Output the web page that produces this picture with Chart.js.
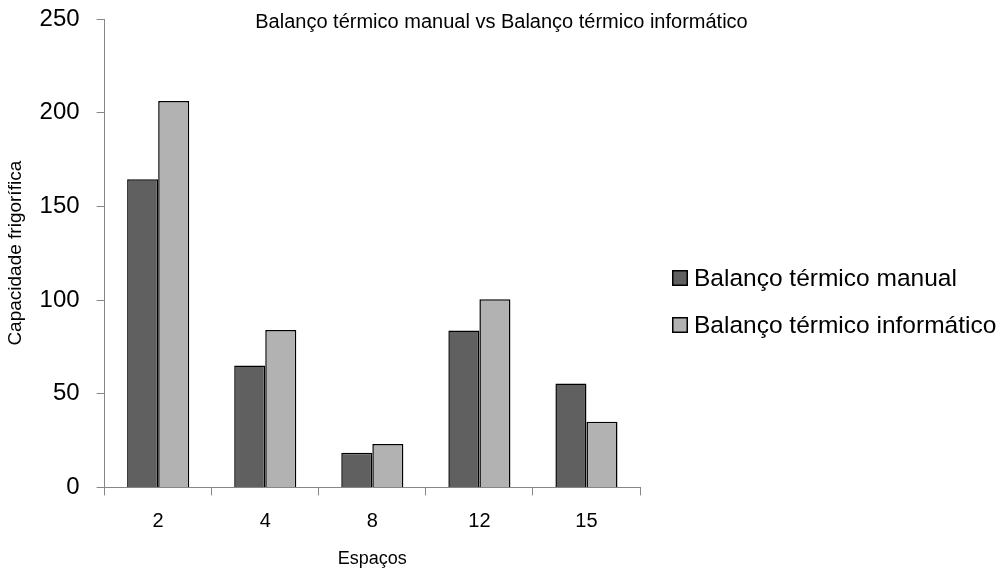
<!DOCTYPE html>
<html lang="pt">
<head>
<meta charset="utf-8">
<title>Balanço térmico manual vs Balanço térmico informático</title>
<script src="https://cdn.jsdelivr.net/npm/chart.js@4/dist/chart.umd.min.js"></script>
<style>
  html, body { margin: 0; padding: 0; background: #ffffff; }
  canvas { display: block; }
</style>
</head>
<body>
<canvas id="chart" width="1003" height="572" style="width:1003px;height:572px"></canvas>
<script>
// Spaces (Espaços) and the cooling capacity found by each method
const espacos = ['2', '4', '8', '12', '15'];
const balancoManual = [164.5, 65.0, 18.5, 83.7, 55.4];
const balancoInformatico = [206.2, 84.0, 23.1, 100.4, 35.1];
const yTicks = [0, 50, 100, 150, 200, 250];

const seriesLabels = ['Balanço térmico manual', 'Balanço térmico informático'];
const seriesColors = ['#606060', '#b2b2b2'];

const FONT = "'Liberation Sans', Arial, sans-serif";
const AXIS_GREY = '#868686';

Chart.defaults.font.family = FONT;
Chart.defaults.color = '#000000';

// Legend drawn as its own layout box on the right side of the chart area
const sideLegend = {
  id: 'sideLegend',
  beforeInit(chart) {
    const box = {
      position: 'right',
      weight: 0,
      fullSize: false,
      options: {},
      top: 0, left: 0, right: 0, bottom: 0, width: 0, height: 0,
      isHorizontal() { return false; },
      update(maxWidth, maxHeight) {
        this.width = 363;
        this.height = maxHeight;
      },
      draw() {
        const ctx = chart.ctx;
        const sets = chart.data.datasets;
        ctx.save();
        ctx.font = '24.5px ' + FONT;
        ctx.textAlign = 'left';
        ctx.textBaseline = 'alphabetic';
        sets.forEach((ds, i) => {
          const bx = this.left + 32;
          const by = this.top + 251 + i * 47;
          ctx.fillStyle = ds.backgroundColor;
          ctx.fillRect(bx, by, 16, 16);
          ctx.lineWidth = 1.5;
          ctx.strokeStyle = '#000000';
          ctx.strokeRect(bx + 0.75, by + 0.75, 14.5, 14.5);
          ctx.fillStyle = '#000000';
          ctx.fillText(ds.label, bx + 22, by + 16);
        });
        ctx.restore();
      }
    };
    Chart.layouts.addBox(chart, box);
  }
};

new Chart(document.getElementById('chart'), {
  type: 'bar',
  data: {
    labels: espacos,
    datasets: [
      {
        label: seriesLabels[0],
        data: balancoManual,
        backgroundColor: seriesColors[0],
        borderColor: '#000000',
        borderWidth: 1.5
      },
      {
        label: seriesLabels[1],
        data: balancoInformatico,
        backgroundColor: seriesColors[1],
        borderColor: '#000000',
        borderWidth: 1.5
      }
    ]
  },
  options: {
    responsive: false,
    animation: false,
    devicePixelRatio: 1,
    layout: { padding: { left: 0, right: 0, top: 0, bottom: 0 } },
    datasets: {
      bar: { categoryPercentage: 0.58, barPercentage: 1.0 }
    },
    plugins: {
      legend: { display: false },
      tooltip: { enabled: false },
      title: {
        display: true,
        text: 'Balanço térmico manual vs Balanço térmico informático',
        font: { family: FONT, size: 20, weight: 'normal' },
        color: '#000000',
        padding: { top: 10, bottom: -15 }
      }
    },
    scales: {
      x: {
        offset: true,
        grid: {
          display: true,
          offset: true,
          drawOnChartArea: false,
          drawTicks: true,
          tickLength: 8,
          color: AXIS_GREY,
          lineWidth: 1
        },
        border: { display: true, color: AXIS_GREY, width: 1 },
        ticks: { font: { size: 20 }, color: '#000000', padding: 14 },
        title: {
          display: true,
          text: 'Espaços',
          font: { size: 18 },
          color: '#000000',
          padding: { top: 1, bottom: 2 }
        }
      },
      y: {
        min: 0,
        max: 250,
        afterBuildTicks(scale) {
          scale.ticks = yTicks.map(v => ({ value: v }));
        },
        // keep only half a label of room above the top tick
        afterFit(scale) {
          scale.paddingTop = 15;
          scale.paddingBottom = 15;
        },
        grid: {
          display: true,
          drawOnChartArea: false,
          drawTicks: true,
          tickLength: 8,
          color: AXIS_GREY,
          lineWidth: 1
        },
        border: { display: true, color: AXIS_GREY, width: 1 },
        ticks: { font: { size: 24 }, color: '#000000', padding: 17 },
        title: {
          display: true,
          text: 'Capacidade frigorífica',
          font: { size: 19 },
          color: '#000000',
          padding: { top: 4.6, bottom: -4.8 }
        }
      }
    }
  },
  plugins: [sideLegend]
});
</script>
</body>
</html>
